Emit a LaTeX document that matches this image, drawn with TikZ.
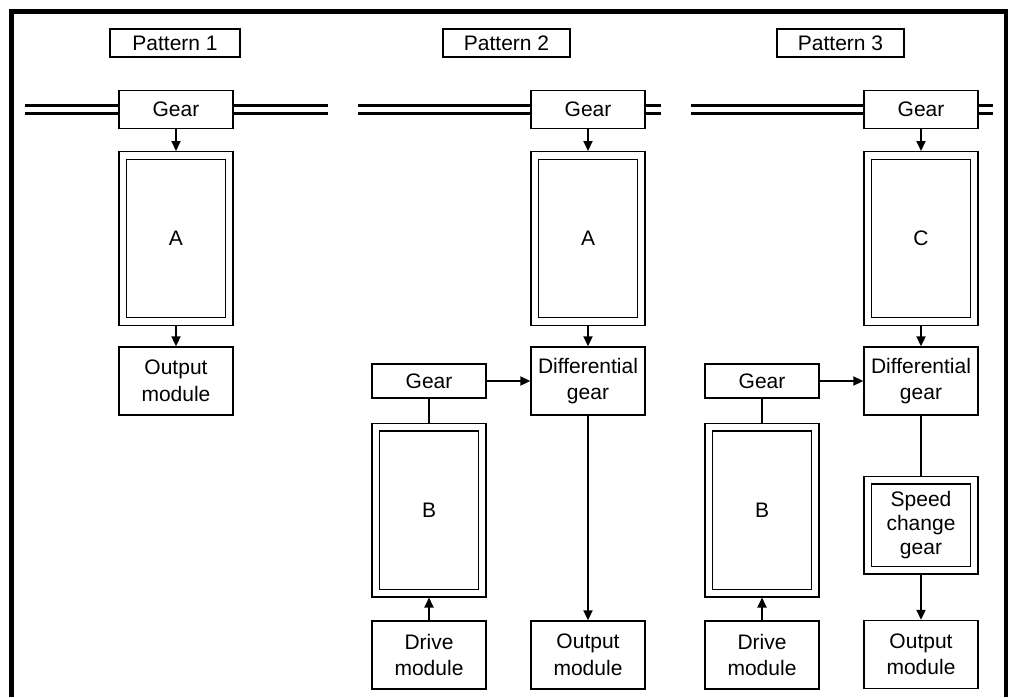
\documentclass[tikz,border=0pt]{standalone}
\usepackage{fontspec}
\setmainfont{Liberation Sans}
\usetikzlibrary{arrows.meta}

\begin{document}
\begin{tikzpicture}[x=1pt, y=-1pt,
    txt/.style={font=\fontsize{21}{26.5}\selectfont},
    tag/.style={txt, draw, line width=1.2pt, minimum height=28pt, inner sep=0pt},
    box/.style={txt, draw, line width=1.4pt, minimum width=114pt, minimum height=68pt,
        inner sep=0pt, align=center},
    gearbox/.style={box, minimum height=38pt},
    smallgear/.style={box, minimum height=34pt},
    unit/.style={box, double, double distance=6.2pt, minimum width=106.4pt,
        minimum height=166pt, outer sep=4.5pt},
    shaft/.style={double, line width=2.6pt, double distance=5.6pt},
    conn/.style={line width=2pt},
    arr/.style={conn, -{Triangle[length=10pt,width=9pt]}}]

    \useasboundingbox (0,0) rectangle (1009,697);
    % frame
    \draw[line width=4.5pt] (11.5,697) -- (11.5,11.5) -- (1006,11.5) -- (1006,697);

    % pattern labels
    \node[tag, minimum width=130pt] (t1) at (175,43) {Pattern 1};
    \node[tag, minimum width=127pt] (t2) at (506.5,43) {Pattern 2};
    \node[tag, minimum width=127pt] (t3) at (840.5,43) {Pattern 3};

    % pattern 1
    \node[gearbox] (g1) at (176,109.5) {Gear};
    \node[unit] (a1) at (176,238.5) {A};
    \node[box] (o1) at (176,381) {Output\\module};
    \coordinate (s1l) at (25,109.5);
    \coordinate (s1r) at (328,109.5);
    \draw[shaft] (s1l) -- (g1.west);
    \draw[shaft] (g1.east) -- (s1r);
    \draw[arr] (g1) -- (a1);
    \draw[arr] (a1) -- (o1);

    % pattern 2
    \node[gearbox] (g2) at (588,109.5) {Gear};
    \node[unit] (a2) at (588,238.5) {A};
    \node[box] (d2) at (588,381) {Differential\\gear};
    \node[box] (o2) at (588,655) {Output\\module};
    \node[smallgear] (lg2) at (429,381) {Gear};
    \node[unit] (b2) at (429,510) {B};
    \node[box] (dr2) at (429,655) {Drive\\module};
    \coordinate (s2l) at (358,109.5);
    \coordinate (s2r) at (661,109.5);
    \draw[shaft] (s2l) -- (g2.west);
    \draw[shaft] (g2.east) -- (s2r);
    \draw[arr] (g2) -- (a2);
    \draw[arr] (a2) -- (d2);
    \draw[arr] (lg2) -- (d2);
    \draw[conn] (lg2) -- (b2);
    \draw[arr] (dr2) -- (b2);
    \draw[arr] (d2) -- (o2);

    % pattern 3
    \node[gearbox] (g3) at (921,109.5) {Gear};
    \node[unit] (c3) at (921,238.5) {C};
    \node[box] (d3) at (921,381) {Differential\\gear};
    \node[unit, minimum height=90pt, font=\fontsize{21}{24}\selectfont] (sc3) at (921,525) {Speed\\change\\gear};
    \node[box] (o3) at (921,654.5) {Output\\module};
    \node[smallgear] (lg3) at (762,381) {Gear};
    \node[unit] (b3) at (762,510) {B};
    \node[box] (dr3) at (762,655) {Drive\\module};
    \coordinate (s3l) at (691,109.5);
    \coordinate (s3r) at (993,109.5);
    \draw[shaft] (s3l) -- (g3.west);
    \draw[shaft] (g3.east) -- (s3r);
    \draw[arr] (g3) -- (c3);
    \draw[arr] (c3) -- (d3);
    \draw[arr] (lg3) -- (d3);
    \draw[conn] (lg3) -- (b3);
    \draw[arr] (dr3) -- (b3);
    \draw[conn] (d3) -- (sc3);
    \draw[arr] (sc3) -- (o3);
\end{tikzpicture}
\end{document}
